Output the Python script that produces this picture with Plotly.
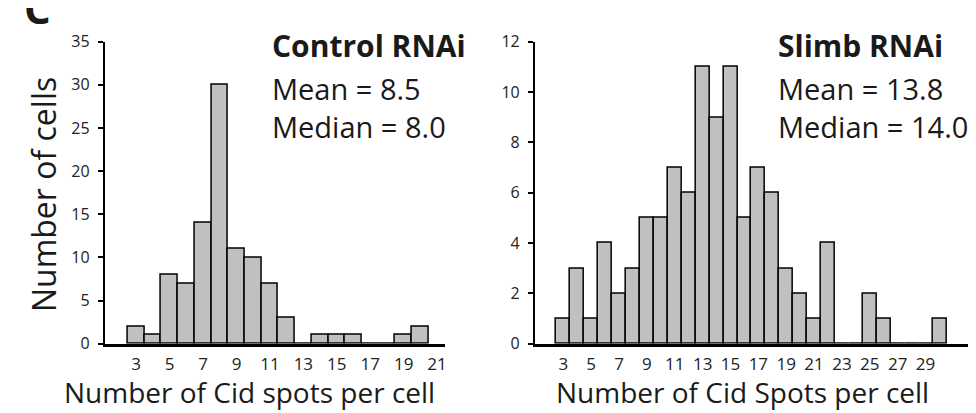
import plotly.graph_objects as go

# Control RNAi histogram
ctrl_spots = list(range(3, 21))
ctrl_counts = [2, 1, 8, 7, 14, 30, 11, 10, 7, 3, 0, 1, 1, 1, 0, 0, 1, 2]
ctrl_xticks = list(range(3, 22, 2))
ctrl_yticks = list(range(0, 36, 5))

# Slimb RNAi histogram
slimb_spots = list(range(3, 31))
slimb_counts = [1, 3, 1, 4, 2, 3, 5, 5, 7, 6, 11, 9, 11, 5, 7, 6, 3, 2, 1, 4,
                0, 0, 2, 1, 0, 0, 0, 1]
slimb_xticks = list(range(3, 30, 2))
slimb_yticks = list(range(0, 13, 2))

W, H = 976, 413
FONT = "Open Sans"

fig = go.Figure()
bar_style = dict(marker=dict(color="#c0c0c0", line=dict(color="black", width=1.5)),
                 width=1, showlegend=False, hoverinfo="x+y")
fig.add_trace(go.Bar(x=ctrl_spots, y=ctrl_counts, xaxis="x", yaxis="y", **bar_style))
fig.add_trace(go.Bar(x=slimb_spots, y=slimb_counts, xaxis="x2", yaxis="y2", **bar_style))

ydom = [(H - 343) / H, (H - 24) / H]
xax = dict(showline=True, linecolor="black", linewidth=2.5, ticks="", showgrid=False,
           zeroline=False, tickfont=dict(family=FONT, size=17, color="#222"),
           ticklabelstandoff=3)
yax = dict(showline=True, linecolor="black", linewidth=2, ticks="outside", ticklen=5,
           tickwidth=1.5, tickcolor="black", showgrid=False, zeroline=False,
           tickfont=dict(family=FONT, size=16, color="#222"), ticklabelstandoff=5)

fig.update_layout(
    width=W, height=H, margin=dict(l=0, r=0, t=0, b=0),
    paper_bgcolor="white", plot_bgcolor="white", bargap=0,
    xaxis=dict(domain=[97 / W, 438 / W], range=[1.12, 21.48], tickvals=ctrl_xticks,
               anchor="y", **xax),
    yaxis=dict(domain=ydom, range=[0, 35], tickvals=ctrl_yticks, anchor="x", **yax),
    xaxis2=dict(domain=[528 / W, 962 / W], range=[0.96, 32.05], tickvals=slimb_xticks,
                anchor="y2", **xax),
    yaxis2=dict(domain=ydom, range=[0, 12], tickvals=slimb_yticks, anchor="x2", **yax),
)

def ann(text, x, y, size, bold=False, xanchor="left", angle=0):
    fig.add_annotation(text=("<b>%s</b>" % text) if bold else text, xref="paper", yref="paper",
                       x=x / W, y=1 - y / H, xanchor=xanchor, yanchor="middle",
                       showarrow=False, textangle=angle, borderpad=0, align="left",
                       font=dict(family=FONT, size=size, color="#1a1a1a"))

ann("Control RNAi", 264, 28, 30, bold=True)
ann("Mean = 8.5<br>Median = 8.0", 264, 94, 29)
ann("Slimb RNAi", 771, 28, 30, bold=True)
ann("Mean = 13.8<br>Median = 14.0", 771, 94, 29)
ann("Number of cells", 35, 185, 32, angle=-90, xanchor="center")
ann("Number of Cid spots per cell", 242, 394, 28, xanchor="center")
ann("Number of Cid Spots per cell", 736, 394, 28, xanchor="center")
ann("C", 30, -12, 42, bold=True, xanchor="center")

fig.write_html("out.html")
